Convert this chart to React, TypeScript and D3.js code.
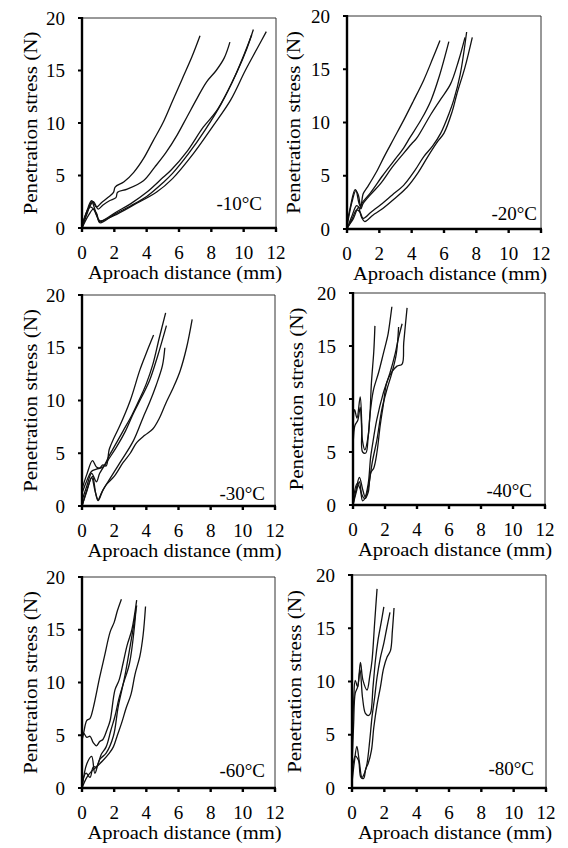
import React from 'react';
import * as d3 from 'd3';

type Pt = [number, number];

const temperatures = ['-10°C', '-20°C', '-30°C', '-40°C', '-60°C', '-80°C'];
const xTicks = [0, 2, 4, 6, 8, 10, 12];
const yTicks = [0, 5, 10, 15, 20];
const xTitle = 'Aproach distance (mm)';
const yTitle = 'Penetration stress (N)';

const curvesM10: Pt[][] = [
  [[0, 0], [0.3, 1.6], [0.6, 2.6], [0.9, 2.0], [1.2, 2.4], [1.6, 2.9], [1.95, 3.4], [2.05, 3.9], [2.6, 4.4], [3.2, 5.3], [3.8, 6.6], [4.4, 8.3], [5.0, 10.0], [5.6, 12.1], [6.2, 14.2], [6.8, 16.3], [7.3, 18.3]],
  [[0, 0.3], [0.4, 1.8], [0.7, 2.5], [1.0, 1.8], [1.3, 2.2], [1.7, 2.6], [2.1, 2.9], [2.2, 3.4], [2.8, 3.7], [3.8, 4.5], [4.5, 5.8], [5.2, 7.2], [5.9, 8.9], [6.5, 10.6], [7.1, 12.3], [7.7, 13.9], [8.3, 15.0], [8.8, 16.2], [9.15, 17.7]],
  [[0, 0], [0.3, 1.3], [0.6, 2.5], [0.85, 1.5], [1.1, 0.6], [1.5, 0.9], [2.1, 1.5], [3.0, 2.3], [4.0, 3.4], [5.0, 4.8], [5.5, 5.5], [6.5, 7.3], [7.5, 9.6], [8.3, 11.1], [9.0, 13.0], [9.6, 14.9], [10.2, 17.1], [10.6, 18.9]],
  [[0, 0], [0.4, 1.2], [0.7, 1.8], [0.9, 1.2], [1.1, 0.7], [2.0, 1.2], [3.2, 2.2], [4.6, 3.4], [5.6, 4.7], [6.9, 7.1], [8.1, 9.7], [9.2, 12.2], [10.1, 15.0], [10.8, 17.0], [11.4, 18.7]],
  [[0, 0.2], [0.5, 2.0], [0.9, 1.4], [1.1, 0.5], [2.0, 1.3], [3.0, 2.1], [4.0, 3.0], [5.0, 4.3], [5.6, 5.2], [6.6, 7.1], [7.6, 9.3], [8.6, 11.8], [9.5, 14.6], [10.1, 16.8], [10.5, 18.4]],
];

const curvesM20: Pt[][] = [
  [[0, 0.5], [0.2, 2.0], [0.5, 3.7], [0.7, 3.2], [0.85, 2.0], [1.0, 3.3], [1.25, 3.9], [1.8, 5.3], [2.3, 6.8], [2.9, 8.5], [3.5, 10.2], [4.1, 12.0], [4.75, 14.0], [5.3, 16.0], [5.75, 17.7]],
  [[0, 0.2], [0.3, 2.5], [0.55, 3.6], [0.8, 2.2], [1.0, 2.6], [1.45, 3.4], [2.2, 5.0], [2.9, 6.4], [3.5, 7.6], [3.9, 8.6], [4.6, 10.3], [5.2, 12.1], [5.7, 14.3], [6.3, 17.6]],
  [[0, 0], [0.3, 1.2], [0.6, 2.2], [0.85, 1.9], [1.0, 2.4], [1.5, 3.3], [2.1, 4.3], [2.8, 5.8], [3.5, 7.1], [4.0, 8.0], [4.3, 8.5], [5.2, 10.8], [5.8, 12.2], [6.4, 13.6], [6.9, 15.8], [7.3, 18.0]],
  [[0, 0], [0.3, 0.9], [0.6, 1.8], [0.8, 1.6], [1.0, 1.0], [1.5, 1.6], [2.1, 2.3], [2.8, 3.2], [3.5, 4.1], [4.2, 5.5], [4.75, 6.8], [5.3, 7.8], [5.8, 9.0], [6.3, 10.8], [6.6, 12.1], [7.0, 14.5], [7.4, 18.5]],
  [[0, 0.1], [0.4, 1.0], [0.7, 2.0], [0.9, 1.1], [1.1, 0.7], [1.6, 1.3], [2.1, 1.8], [2.9, 2.8], [3.7, 3.9], [4.4, 5.3], [5.0, 6.8], [5.6, 8.2], [6.0, 9.0], [6.5, 11.0], [6.8, 12.7], [7.3, 15.2], [7.75, 18.0]],
];

const curvesM30: Pt[][] = [
  [[0, 1.6], [0.3, 3.0], [0.65, 4.3], [0.9, 3.7], [1.1, 3.6], [1.3, 3.9], [1.5, 3.8], [1.7, 5.4], [2.0, 6.5], [2.35, 7.6], [3.0, 10.0], [3.6, 12.9], [4.0, 14.5], [4.45, 16.2]],
  [[0, 1.2], [0.3, 2.4], [0.6, 3.3], [0.9, 3.5], [1.3, 3.7], [1.7, 4.8], [2.55, 7.1], [3.1, 8.6], [3.6, 10.2], [4.0, 11.6], [4.4, 13.4], [4.8, 15.9], [5.2, 18.3]],
  [[0, 0.5], [0.3, 1.9], [0.6, 3.1], [0.9, 2.3], [1.1, 3.1], [1.6, 4.3], [2.15, 5.6], [2.7, 7.1], [3.2, 8.8], [3.7, 10.3], [4.2, 11.9], [4.7, 14.2], [5.25, 17.1]],
  [[0, 0], [0.3, 1.5], [0.65, 2.8], [0.85, 1.2], [1.0, 0.5], [1.3, 1.5], [1.7, 2.5], [2.4, 4.2], [3.2, 6.2], [3.8, 8.4], [4.2, 9.8], [4.6, 11.4], [5.0, 13.3], [5.15, 15.0]],
  [[0, 0], [0.3, 1.4], [0.6, 2.7], [0.8, 1.5], [1.0, 0.6], [1.2, 1.2], [1.5, 2.0], [2.0, 2.8], [2.55, 4.1], [3.0, 5.0], [3.4, 6.0], [3.9, 6.7], [4.4, 7.3], [4.8, 8.3], [5.2, 9.7], [5.7, 11.3], [6.1, 12.8], [6.5, 15.0], [6.85, 17.7]],
];

const curvesM40: Pt[][] = [
  [[0, 6.5], [0.1, 9.0], [0.25, 8.2], [0.45, 10.2], [0.55, 7.5], [0.6, 5.0], [0.8, 4.9], [0.95, 6.5], [1.06, 8.5], [1.15, 11.5], [1.3, 14.5], [1.37, 16.9]],
  [[0, 5.0], [0.12, 7.5], [0.3, 8.0], [0.45, 9.2], [0.6, 6.0], [0.74, 5.2], [0.95, 6.5], [1.06, 8.5], [1.27, 10.8], [1.6, 12.5], [1.9, 14.3], [2.1, 15.5], [2.2, 16.2], [2.43, 18.7]],
  [[0, 0], [0.2, 1.5], [0.4, 2.6], [0.6, 1.5], [0.75, 0.8], [0.95, 2.0], [1.1, 4.5], [1.2, 5.5], [1.48, 8.0], [1.9, 10.6], [2.3, 12.4], [2.64, 14.3], [2.85, 15.8], [3.07, 17.1]],
  [[0, 0], [0.2, 1.2], [0.4, 2.2], [0.55, 1.0], [0.75, 0.6], [0.95, 1.2], [1.1, 3.0], [1.3, 3.5], [1.5, 5.0], [1.7, 7.5], [1.9, 9.5], [2.1, 11.5], [2.4, 12.5], [2.75, 13.1], [3.07, 13.3], [3.17, 15.3], [3.38, 18.6]],
  [[0, 0.3], [0.25, 2.0], [0.45, 1.5], [0.6, 0.4], [0.8, 0.8], [1.0, 2.0], [1.2, 4.0], [1.5, 6.2], [1.8, 9.0], [2.1, 10.8], [2.4, 12.3], [2.7, 14.2], [2.85, 16.8]],
];

const curvesM60: Pt[][] = [
  [[0, 4.5], [0.1, 5.2], [0.3, 6.4], [0.5, 6.6], [0.7, 7.6], [1.1, 10.5], [1.4, 12.5], [1.75, 14.8], [2.0, 15.7], [2.2, 16.8], [2.45, 17.9]],
  [[0, 3.5], [0.1, 5.2], [0.3, 4.8], [0.5, 4.9], [0.7, 4.3], [0.9, 4.0], [1.1, 4.4], [1.3, 4.6], [1.55, 5.5], [1.75, 6.4], [2.05, 9.3], [2.3, 10.2], [2.55, 11.8], [2.8, 13.5], [3.1, 15.0], [3.4, 17.8]],
  [[0, 0], [0.3, 2.3], [0.6, 3.0], [0.8, 1.4], [1.1, 2.7], [1.5, 3.3], [1.95, 4.9], [2.25, 7.7], [2.65, 10.5], [3.0, 13.5], [3.2, 15.3], [3.4, 17.3]],
  [[0, 0.3], [0.25, 1.4], [0.5, 1.0], [0.7, 2.0], [0.9, 2.0], [1.2, 3.2], [1.5, 3.9], [1.8, 5.5], [2.05, 6.8], [2.3, 8.5], [2.55, 9.8], [2.95, 11.8], [3.3, 15.9], [3.35, 17.0]],
  [[0, 0], [0.3, 1.0], [0.6, 1.6], [0.9, 2.0], [1.3, 2.6], [1.7, 3.3], [1.95, 3.9], [2.2, 5.0], [2.45, 6.1], [2.75, 7.6], [3.05, 8.9], [3.3, 10.8], [3.6, 12.5], [3.8, 14.5], [3.95, 17.2]],
];

const curvesM80: Pt[][] = [
  [[0, 4.0], [0.1, 8.0], [0.2, 10.1], [0.35, 9.5], [0.52, 11.8], [0.68, 10.1], [0.93, 9.2], [1.1, 10.5], [1.24, 12.0], [1.4, 15.5], [1.55, 18.7]],
  [[0, 2.0], [0.1, 6.0], [0.2, 8.9], [0.35, 9.5], [0.5, 11.1], [0.65, 8.5], [0.83, 7.0], [1.0, 6.8], [1.14, 7.0], [1.3, 9.5], [1.45, 12.0], [1.6, 13.8], [1.8, 15.5], [1.97, 17.0]],
  [[0, 0.5], [0.15, 2.5], [0.3, 3.9], [0.45, 2.5], [0.62, 1.0], [0.8, 1.5], [0.93, 2.3], [1.1, 4.5], [1.24, 6.7], [1.4, 8.5], [1.55, 10.4], [1.75, 12.2], [1.97, 13.6], [2.15, 15.0], [2.35, 16.5]],
  [[0, 1.0], [0.2, 3.0], [0.4, 2.6], [0.55, 1.0], [0.72, 0.9], [0.85, 1.8], [1.0, 2.3], [1.2, 3.5], [1.35, 5.7], [1.55, 7.8], [1.76, 9.5], [1.95, 11.2], [2.17, 12.3], [2.38, 12.9], [2.5, 14.8], [2.6, 16.9]],
];

const allCurves = [curvesM10, curvesM20, curvesM30, curvesM40, curvesM60, curvesM80];

// panel frames (pixel layout)
const frames = [
  { x0: 82, x1: 276, yTop: 18, yBot: 228, tx: 262, ty: 210, yl: 37 },
  { x0: 347, x1: 541, yTop: 16, yBot: 229, tx: 537, ty: 220, yl: 300 },
  { x0: 82, x1: 275, yTop: 295, yBot: 506, tx: 265, ty: 500, yl: 37 },
  { x0: 353, x1: 545, yTop: 293, yBot: 505, tx: 532, ty: 497, yl: 303 },
  { x0: 82, x1: 275, yTop: 577, yBot: 788, tx: 265, ty: 777, yl: 37 },
  { x0: 352, x1: 546, yTop: 575, yBot: 788, tx: 534, ty: 775, yl: 301 },
];

const textStyle: React.CSSProperties = {
  fontFamily: "'Liberation Serif', 'DejaVu Serif', 'Times New Roman', Times, serif",
  fontSize: '19px',
};

function Panel({ curves, label, f }: { curves: Pt[][]; label: string; f: typeof frames[number] }) {
  const x = d3.scaleLinear().domain([0, 12]).range([f.x0, f.x1]);
  const y = d3.scaleLinear().domain([0, 20]).range([f.yBot, f.yTop]);
  const line = d3
    .line<Pt>()
    .x((d) => x(d[0]))
    .y((d) => y(d[1]))
    .curve(d3.curveCatmullRom.alpha(0.5));
  const cy = (f.yTop + f.yBot) / 2;
  const cx = (f.x0 + f.x1) / 2 + 6;
  return (
    <g>
      <line x1={f.x0} x2={f.x1} y1={f.yTop} y2={f.yTop} stroke="#333" strokeWidth={1} />
      <line x1={f.x1} x2={f.x1} y1={f.yTop} y2={f.yBot} stroke="#333" strokeWidth={1} />
      {curves.map((c, i) => (
        <path key={i} d={line(c) || ''} fill="none" stroke="#111" strokeWidth={1.3} />
      ))}
      <line x1={f.x0} x2={f.x0} y1={f.yTop - 1} y2={f.yBot + 1} stroke="#000" strokeWidth={2.4} />
      <line x1={f.x0 - 1} x2={f.x1 + 1} y1={f.yBot} y2={f.yBot} stroke="#000" strokeWidth={2.4} />
      {xTicks.map((t) => (
        <g key={'x' + t}>
          <line x1={x(t)} x2={x(t)} y1={f.yBot} y2={f.yBot + 4} stroke="#000" strokeWidth={2.4} />
          <text x={x(t)} y={f.yBot + 31} textAnchor="middle" style={textStyle}>
            {t}
          </text>
        </g>
      ))}
      {yTicks.map((t) => (
        <g key={'y' + t}>
          <line x1={f.x0 - 4} x2={f.x0} y1={y(t)} y2={y(t)} stroke="#000" strokeWidth={2} />
          <text x={f.x0 - 17} y={y(t)} dy="0.35em" textAnchor="end" style={textStyle}>
            {t}
          </text>
        </g>
      ))}
      <text x={f.tx} y={f.ty} textAnchor="end" style={textStyle}>
        {label}
      </text>
      <text
        x={cx}
        y={f.yBot + 51}
        textAnchor="middle"
        style={textStyle}
        textLength={194}
        lengthAdjust="spacingAndGlyphs"
      >
        {xTitle}
      </text>
      <text
        transform={`translate(${f.yl},${cy}) rotate(-90)`}
        textAnchor="middle"
        style={textStyle}
        textLength={183}
        lengthAdjust="spacingAndGlyphs"
      >
        {yTitle}
      </text>
    </g>
  );
}

export default function App() {
  return (
    <svg
      width={568}
      height={848}
      viewBox="0 0 568 848"
      style={{ position: 'absolute', left: 0, top: 0, background: '#fff' }}
    >
      <rect width={568} height={848} fill="#fff" />
      {allCurves.map((c, i) => (
        <Panel key={i} curves={c} label={temperatures[i]} f={frames[i]} />
      ))}
    </svg>
  );
}
